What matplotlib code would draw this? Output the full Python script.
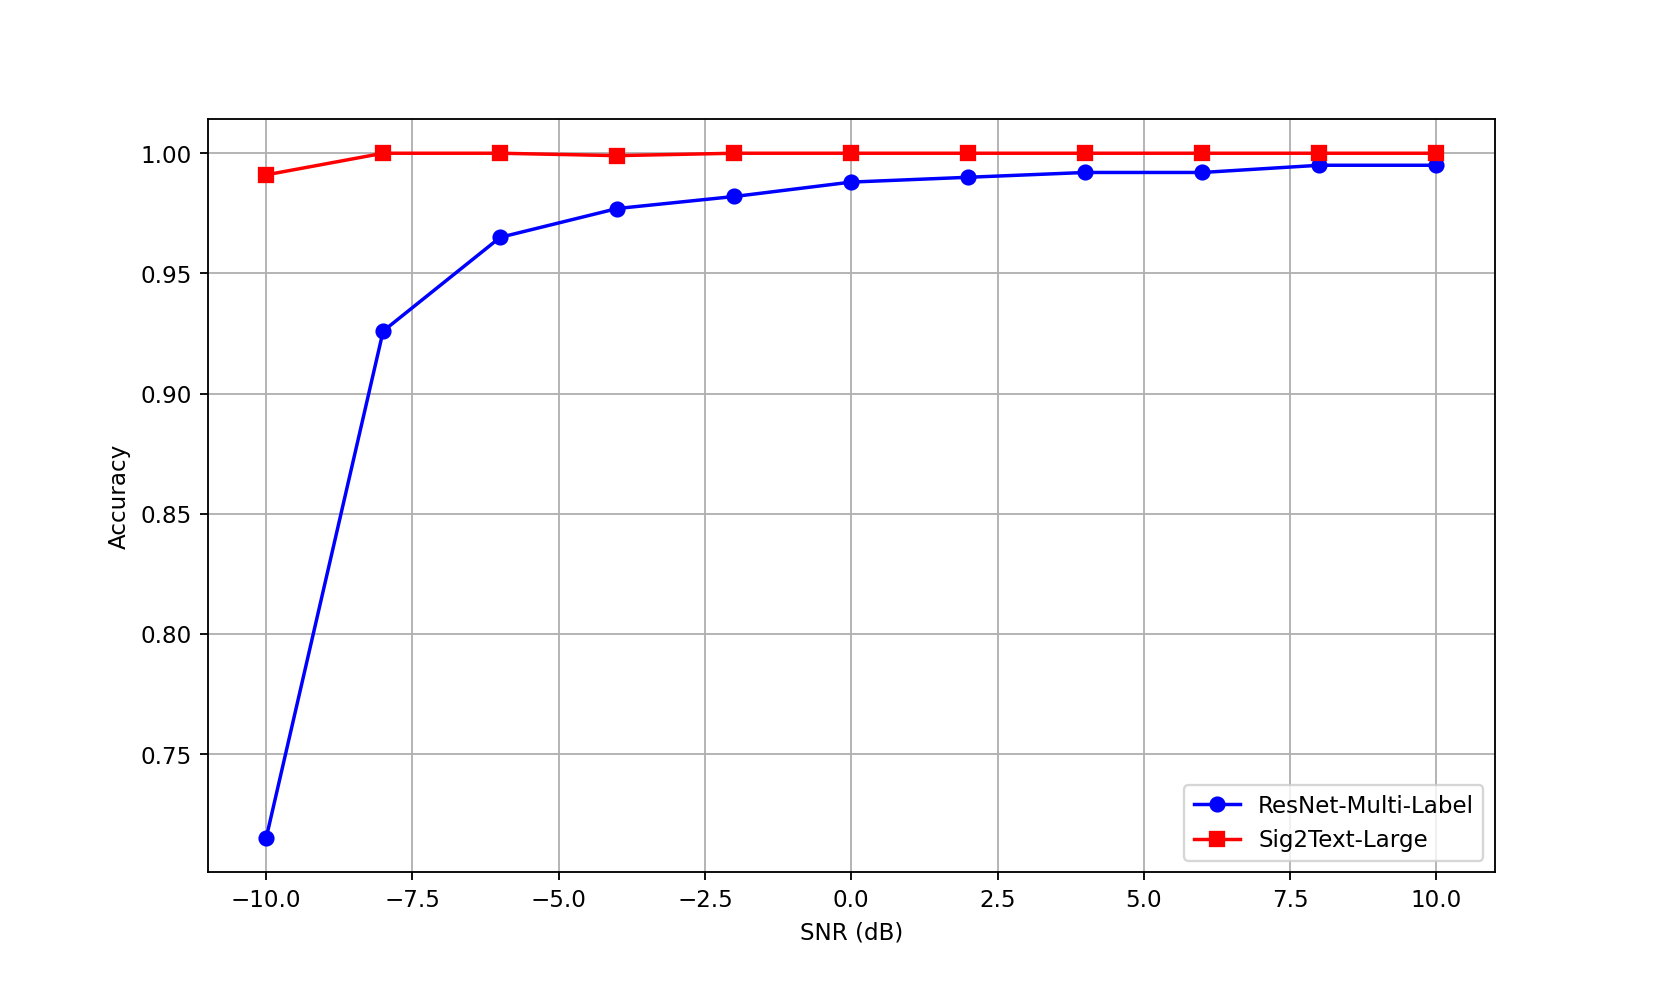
import matplotlib
matplotlib.use("Agg")
import matplotlib.pyplot as plt

snr = [-10, -8, -6, -4, -2, 0, 2, 4, 6, 8, 10]
resnet_acc = [0.715, 0.926, 0.965, 0.977, 0.982, 0.988, 0.990, 0.992, 0.992, 0.995, 0.995]
sig2text_acc = [0.991, 1.000, 1.000, 0.999, 1.000, 1.000, 1.000, 1.000, 1.000, 1.000, 1.000]

fig = plt.figure(figsize=(10, 6), dpi=166.1)
ax = fig.add_subplot(111)
ax.plot(snr, resnet_acc, 'b-o', label='ResNet-Multi-Label')
ax.plot(snr, sig2text_acc, 'r-s', label='Sig2Text-Large')
ax.set_xlabel('SNR (dB)')
ax.set_ylabel('Accuracy')
ax.grid(True)
ax.legend(loc='lower right')
fig.subplots_adjust(bottom=0.124, top=0.88)
fig.savefig('out.png')
